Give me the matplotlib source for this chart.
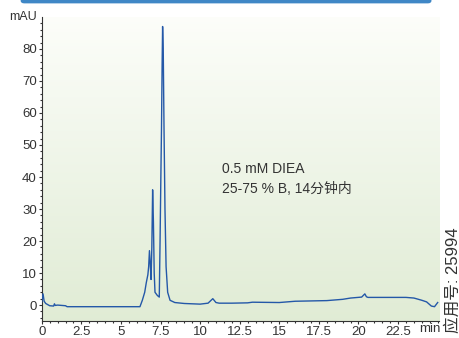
import numpy as np
import matplotlib.pyplot as plt
from matplotlib.patches import FancyBboxPatch

plt.rcParams['font.family'] = ['Liberation Sans', 'Noto Sans CJK SC', 'DejaVu Sans']

# chromatogram (min, mAU)
t = [0.0, 0.08, 0.15, 0.25, 0.5, 0.75, 0.8, 0.85, 1.0, 1.5, 1.6, 3.0, 5.0, 6.2,
     6.35, 6.5, 6.6, 6.7, 6.75, 6.8, 6.85, 6.9, 6.95, 7.0, 7.05, 7.1, 7.15,
     7.3, 7.42, 7.47, 7.52, 7.56, 7.6, 7.63, 7.67, 7.72, 7.78, 7.85, 7.95,
     8.1, 8.4, 9.0, 10.0, 10.5, 10.8, 11.0, 11.2, 12.0, 13.0, 13.3, 15.0,
     16.0, 17.0, 18.0, 18.5, 19.0, 19.5, 20.2, 20.4, 20.5, 20.6, 21.0, 22.0,
     23.0, 23.5, 24.0, 24.3, 24.6, 24.8, 25.0]
mau = [1.0, 3.5, 1.2, 0.5, -0.2, -0.3, 0.4, -0.1, 0.0, -0.2, -0.5, -0.5, -0.5, -0.5,
       1.5, 4.0, 7.0, 9.5, 12.0, 17.0, 13.0, 8.0, 18.0, 36.0, 26.0, 10.0, 4.0,
       3.0, 2.5, 20.0, 40.0, 55.0, 75.0, 87.0, 80.0, 55.0, 30.0, 12.0, 4.0,
       1.5, 0.8, 0.5, 0.3, 0.6, 2.0, 0.8, 0.6, 0.6, 0.7, 0.9, 0.8,
       1.2, 1.3, 1.4, 1.6, 1.8, 2.2, 2.5, 3.5, 2.6, 2.4, 2.4, 2.4,
       2.4, 2.2, 1.5, 1.0, -0.3, -0.5, 0.8]

xticks = [0, 2.5, 5, 7.5, 10, 12.5, 15, 17.5, 20, 22.5]
xticklabels = ['0', '2.5', '5', '7.5', '10', '12.5', '15', '17.5', '20', '22.5']
yticks = [0, 10, 20, 30, 40, 50, 60, 70, 80]

fig = plt.figure(figsize=(4.59, 3.38), dpi=100)
ax = fig.add_axes([0.091, 0.05, 0.866, 0.9])

# background gradient white -> light green
grad = np.linspace(0, 1, 256).reshape(-1, 1)
top = np.array([0.99, 0.995, 0.98])
bot = np.array([0.88, 0.925, 0.835])
img = top + (bot - top) * grad[:, :, None]
ax.imshow(img, extent=[0, 1, 0, 1], transform=ax.transAxes, aspect='auto', zorder=0)

ax.plot(t, mau, color='#2458a8', lw=1.0, zorder=3)

ax.set_xlim(0, 25.1)
ax.set_ylim(-5, 90)
ax.set_xticks(xticks)
ax.set_xticklabels(xticklabels)
ax.set_yticks(yticks)
ax.set_xticks(np.arange(0, 25.1, 0.5), minor=True)
ax.set_yticks(np.arange(-4, 90, 2), minor=True)
ax.tick_params(labelsize=9.5, colors='#333333', length=2.5, width=0.8, pad=1)
ax.tick_params(which='minor', length=1.5, width=0.8, colors='#333333')
for s in ['top', 'right']:
    ax.spines[s].set_visible(False)
for s in ['left', 'bottom']:
    ax.spines[s].set_color('#333333')

ax.text(-0.012, 1.0, 'mAU', transform=ax.transAxes, ha='right', va='center',
        fontsize=9, color='#333333')
ax.text(24.5, -0.006, 'min', transform=ax.get_xaxis_transform(), ha='center', va='top',
        fontsize=9.5, color='#333333')

ax.text(11.4, 39.5, '0.5 mM DIEA\n25-75 % B, 14分钟内', fontsize=10, color='#333333',
        va='center', ha='left', linespacing=1.55)

fig.text(0.986, 0.015, '应用号: 25994', rotation=90, ha='center', va='bottom',
         fontsize=12, color='#333333')

bar = FancyBboxPatch((0.045, 0.99), 0.895, 0.03, boxstyle='round,pad=0,rounding_size=0.008',
                     transform=fig.transFigure, facecolor='#3f87c6', edgecolor='none')
fig.patches.append(bar)

fig.savefig('out.png', dpi=100)
